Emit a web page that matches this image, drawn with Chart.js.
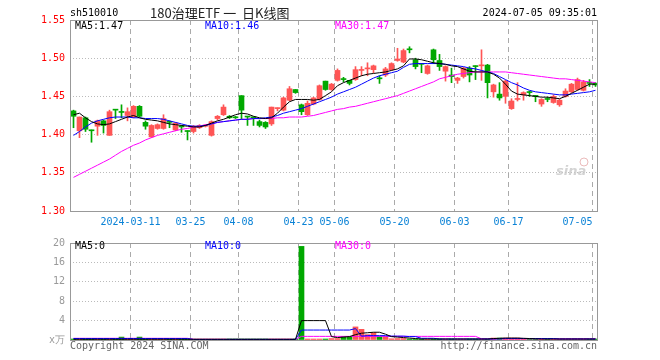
<!DOCTYPE html>
<html>
<head>
<meta charset="utf-8">
<script src="https://cdn.jsdelivr.net/npm/chart.js@4.4.1/dist/chart.umd.min.js"></script>
<style>
html, body { margin: 0; padding: 0; background: #fff; }
#wrap { position: relative; width: 660px; height: 360px; }
canvas { position: absolute; left: 0; }
#k { top: 0; }
#v { top: 232px; }
</style>
</head>
<body>
<div id="wrap">
  <canvas id="k" width="660" height="232"></canvas>
  <canvas id="v" width="660" height="128"></canvas>
</div>
<script>
// daily candles, 2024-02-26 .. 2024-07-05
var openP = [1.431,1.405,1.422,1.406,1.411,1.418,1.399,1.433,1.430,1.425,
             1.423,1.437,1.416,1.397,1.408,1.408,1.417,1.406,1.411,1.405,
             1.404,1.409,1.411,1.399,1.421,1.426,1.424,1.423,1.451,1.424,
             1.423,1.417,1.416,1.414,1.434,1.432,1.445,1.459,1.439,1.426,
             1.440,1.446,1.470,1.459,1.471,1.473,1.471,1.472,1.484,1.486,
             1.485,1.474,1.478,1.485,1.497,1.495,1.512,1.498,1.493,1.480,
             1.511,1.497,1.483,1.478,1.471,1.476,1.487,1.490,1.490,1.491,
             1.456,1.453,1.450,1.434,1.446,1.452,1.456,1.451,1.440,1.447,
             1.442,1.439,1.450,1.456,1.459,1.458,1.468,1.467];
var highP = [1.432,1.423,1.423,1.406,1.419,1.419,1.432,1.433,1.439,1.435,
             1.438,1.438,1.418,1.413,1.414,1.426,1.418,1.416,1.412,1.405,
             1.412,1.413,1.413,1.418,1.425,1.439,1.425,1.424,1.451,1.424,
             1.423,1.419,1.417,1.436,1.435,1.449,1.463,1.459,1.440,1.444,
             1.449,1.465,1.470,1.467,1.486,1.475,1.471,1.489,1.489,1.494,
             1.491,1.477,1.488,1.494,1.513,1.512,1.515,1.500,1.493,1.491,
             1.512,1.505,1.490,1.487,1.475,1.488,1.489,1.490,1.511,1.492,
             1.466,1.468,1.471,1.447,1.468,1.456,1.457,1.451,1.447,1.449,
             1.452,1.446,1.460,1.467,1.474,1.471,1.472,1.468];
var lowP  = [1.409,1.396,1.404,1.390,1.399,1.402,1.399,1.421,1.422,1.418,
             1.422,1.423,1.407,1.396,1.407,1.407,1.409,1.405,1.403,1.393,
             1.402,1.408,1.410,1.398,1.419,1.425,1.421,1.421,1.420,1.412,
             1.412,1.410,1.408,1.412,1.431,1.431,1.444,1.454,1.426,1.425,
             1.439,1.445,1.458,1.458,1.470,1.469,1.465,1.471,1.477,1.477,
             1.481,1.467,1.476,1.484,1.496,1.494,1.507,1.486,1.481,1.479,
             1.493,1.484,1.470,1.468,1.467,1.474,1.469,1.472,1.471,1.448,
             1.449,1.445,1.441,1.433,1.444,1.445,1.450,1.443,1.437,1.443,
             1.441,1.437,1.449,1.455,1.458,1.457,1.463,1.463];
var closeP = [1.424,1.423,1.407,1.405,1.418,1.412,1.430,1.432,1.429,1.430,
              1.437,1.424,1.411,1.412,1.413,1.421,1.416,1.415,1.410,1.404,
              1.411,1.412,1.412,1.417,1.424,1.436,1.422,1.422,1.432,1.423,
              1.422,1.412,1.410,1.436,1.435,1.448,1.460,1.455,1.430,1.441,
              1.448,1.464,1.459,1.466,1.484,1.472,1.467,1.485,1.485,1.487,
              1.490,1.473,1.486,1.493,1.499,1.510,1.511,1.489,1.492,1.490,
              1.498,1.489,1.489,1.476,1.474,1.487,1.478,1.489,1.491,1.468,
              1.465,1.448,1.470,1.444,1.447,1.455,1.455,1.450,1.446,1.446,
              1.450,1.445,1.457,1.466,1.472,1.469,1.467,1.465];

var ma5  = [1.426,1.428,1.422,1.417,1.414,1.413,1.414,1.417,1.420,1.423,
            1.425,1.422,1.420,1.419,1.418,1.416,1.414,1.413,1.412,1.411,
            1.410,1.410,1.412,1.415,1.418,1.420,1.423,1.426,1.428,1.427,
            1.424,1.422,1.421,1.422,1.428,1.436,1.443,1.446,1.446,1.446,
            1.445,1.446,1.451,1.456,1.464,1.468,1.471,1.474,1.477,1.479,
            1.480,1.481,1.482,1.484,1.486,1.490,1.499,1.499,1.498,1.496,
            1.494,1.493,1.492,1.490,1.489,1.486,1.483,1.482,1.482,1.482,
            1.479,1.474,1.466,1.457,1.453,1.452,1.451,1.450,1.449,1.449,
            1.448,1.447,1.450,1.454,1.458,1.462,1.466,1.466];
var ma10 = [1.399,1.404,1.410,1.415,1.418,1.420,1.422,1.423,1.423,1.423,
            1.422,1.422,1.421,1.421,1.421,1.420,1.418,1.416,1.414,1.412,
            1.411,1.411,1.412,1.414,1.416,1.417,1.418,1.419,1.420,1.420,
            1.421,1.421,1.422,1.423,1.425,1.428,1.430,1.432,1.434,1.437,
            1.440,1.443,1.446,1.449,1.453,1.456,1.459,1.462,1.466,1.470,
            1.474,1.477,1.479,1.481,1.483,1.488,1.492,1.493,1.493,1.493,
            1.493,1.493,1.492,1.491,1.490,1.489,1.487,1.486,1.484,1.482,
            1.480,1.476,1.472,1.468,1.465,1.461,1.458,1.456,1.455,1.454,
            1.453,1.452,1.452,1.453,1.454,1.455,1.456,1.458];
var ma30 = [1.344,1.348,1.352,1.356,1.360,1.364,1.368,1.373,1.378,1.382,
            1.386,1.389,1.393,1.396,1.399,1.401,1.403,1.405,1.407,1.408,
            1.410,1.411,1.413,1.414,1.416,1.417,1.418,1.419,1.420,1.420,
            1.421,1.421,1.421,1.421,1.422,1.422,1.423,1.423,1.423,1.424,
            1.425,1.427,1.429,1.431,1.433,1.434,1.436,1.437,1.439,1.441,
            1.443,1.445,1.447,1.449,1.451,1.454,1.457,1.460,1.463,1.466,
            1.469,1.473,1.475,1.477,1.479,1.480,1.481,1.482,1.482,1.482,
            1.482,1.482,1.482,1.481,1.480,1.479,1.478,1.477,1.476,1.475,
            1.474,1.473,1.473,1.472,1.471,1.470,1.469,1.468];

// volume in 万
var volume = [0.2,0.15,0.2,0.15,0.15,0.1,0.2,0.1,0.6,0.15,
              0.15,0.6,0.1,0.15,0.1,0.15,0.1,0.1,0.15,0.1,
              0.15,0.1,0.1,0.15,0.1,0.15,0.1,0.1,0.2,0.1,
              0.1,0.1,0.1,0.15,0.1,0.15,0.15,0.1,19.3,0.15,
              0.15,0.2,0.15,0.3,0.3,0.7,0.7,2.7,2.2,1.1,
              1.5,0.7,0.7,0.25,0.3,0.3,0.2,0.2,0.15,0.2,
              0.15,0.2,0.2,0.15,0.2,0.2,0.15,0.2,0.2,0.2,
              0.4,0.4,0.4,0.4,0.4,0.3,0.2,0.2,0.15,0.2,
              0.2,0.2,0.2,0.2,0.2,0.2,0.15,0.2];
var volMa5  = [0.15,0.15,0.15,0.15,0.15,0.15,0.15,0.15,0.15,0.15,
               0.15,0.15,0.15,0.15,0.15,0.15,0.15,0.15,0.15,0.15,
               0.15,0.15,0.15,0.15,0.15,0.15,0.15,0.15,0.15,0.15,
               0.15,0.15,0.15,0.15,0.15,0.15,0.15,0.15,4.0,4.0,
               4.0,4.0,4.0,0.7,0.5,0.6,0.7,1.1,1.4,1.5,
               1.6,1.6,1.2,0.7,0.6,0.5,0.4,0.3,0.2,0.2,
               0.2,0.2,0.2,0.2,0.2,0.2,0.2,0.2,0.2,0.2,
               0.3,0.35,0.4,0.4,0.4,0.35,0.3,0.25,0.2,0.2,
               0.2,0.2,0.2,0.2,0.2,0.2,0.2,0.2];
var volMa10 = [0.3,0.3,0.3,0.3,0.3,0.3,0.3,0.3,0.3,0.3,
               0.3,0.3,0.3,0.3,0.3,0.3,0.3,0.3,0.3,0.3,
               0.12,0.12,0.12,0.12,0.12,0.12,0.12,0.12,0.12,0.12,
               0.12,0.12,0.12,0.12,0.12,0.12,0.12,0.12,2.05,2.05,
               2.05,2.05,2.05,2.05,2.05,2.05,2.05,2.35,0.8,0.9,
               0.9,0.9,0.9,0.8,0.8,0.8,0.7,0.7,0.35,0.35,
               0.35,0.2,0.2,0.2,0.2,0.2,0.2,0.2,0.2,0.2,
               0.2,0.25,0.3,0.3,0.3,0.3,0.3,0.3,0.3,0.3,
               0.3,0.2,0.2,0.2,0.2,0.2,0.2,0.2];
var volMa30 = [0.35,0.35,0.35,0.35,0.35,0.35,0.35,0.35,0.35,0.35,
               0.35,0.35,0.35,0.35,0.35,0.35,0.35,0.35,0.35,0.35,
               0.12,0.12,0.12,0.12,0.12,0.12,0.12,0.12,0.12,0.12,
               0.12,0.12,0.12,0.12,0.12,0.12,0.12,0.12,0.75,0.75,
               0.75,0.75,0.75,0.75,0.75,0.75,0.75,0.75,0.75,0.75,
               0.75,0.75,0.75,0.75,0.75,0.75,0.75,0.75,0.75,0.75,
               0.75,0.75,0.75,0.75,0.75,0.75,0.75,0.75,0.25,0.25,
               0.25,0.25,0.25,0.25,0.25,0.25,0.25,0.25,0.25,0.25,
               0.25,0.25,0.25,0.25,0.25,0.25,0.25,0.25];

// date ticks: candle index where each label sits
var tickIdx    = [10, 20, 28, 38, 44, 54, 64, 73, 87];
var tickLabels = ['2024-03-11', '03-25', '04-08', '04-23', '05-06', '05-20', '06-03', '06-17', '07-05'];
var priceTicks = [1.30, 1.35, 1.40, 1.45, 1.50, 1.55];
var volTicks   = [0, 4, 8, 12, 16, 20];

var RED = '#ff5555', GREEN = '#00a800';
var MONO = 'DejaVu Sans Mono';
var colors = closeP.map(function (c, i) { return c >= openP[i] ? RED : GREEN; });

function pts(arr) { return arr.map(function (v, i) { return { x: i, y: v }; }); }
function lineSet(arr, col) {
  return { type: 'line', data: pts(arr), borderColor: col, borderWidth: 1, pointRadius: 0,
           fill: false, tension: 0, order: 0 };
}

function xAxis(h, showLabels) {
  return {
    type: 'linear', offset: false, min: -0.5833, max: closeP.length - 0.5833,
    afterBuildTicks: function (s) { s.ticks = tickIdx.map(function (i) { return { value: i - 0.5 }; }); },
    afterFit: function (s) { s.height = h; },
    ticks: { display: showLabels, autoSkip: false, maxRotation: 0, padding: 5, color: '#0a82d6',
             font: { family: MONO, size: 10 },
             // last label is pushed left so it stays inside the frame
             callback: function (v, i) { return i === tickLabels.length - 1 ? tickLabels[i] + '     ' : tickLabels[i]; } },
    grid: { color: '#aaa', drawTicks: false, offset: false },
    border: { display: false, dash: [5, 4] }
  };
}

function frame(chart) {
  var c = chart.ctx, a = chart.chartArea;
  c.strokeStyle = '#999';
  c.lineWidth = 1;
  c.setLineDash([]);
  c.strokeRect(a.left + 0.5, a.top + 0.5, a.right - a.left - 1, a.bottom - a.top);
}

var kDecor = {
  id: 'kDecor',
  afterDraw: function (chart) {
    var c = chart.ctx;
    c.save();
    frame(chart);
    c.textBaseline = 'middle';
    c.font = '10px "' + MONO + '"';
    c.fillStyle = '#000';
    c.textAlign = 'left';
    c.fillText('sh510010', 70, 13);
    c.textAlign = 'right';
    c.fillText('2024-07-05 09:35:01', 597, 13);
    c.textAlign = 'left';
    c.fillText('MA5:' + ma5[ma5.length - 1].toFixed(2), 75, 26);
    c.fillStyle = '#0000ff';
    c.fillText('MA10:' + ma10[ma10.length - 1].toFixed(2), 205, 26);
    c.fillStyle = '#ff00ff';
    c.fillText('MA30:' + ma30[ma30.length - 1].toFixed(2), 335, 26);
    c.fillStyle = '#222';
    c.font = '13px "Noto Sans CJK SC"';
    c.fillText('180治理ETF 一  日K线图', 150, 13);
    // faint sina watermark
    c.fillStyle = 'rgba(200,200,200,0.8)';
    c.font = 'italic bold 13px "DejaVu Sans"';
    c.fillText('sina', 556, 172);
    c.strokeStyle = 'rgba(230,170,170,0.8)';
    c.beginPath();
    c.arc(584, 162, 4, 0, Math.PI * 2);
    c.stroke();
    c.restore();
  }
};

var vDecor = {
  id: 'vDecor',
  afterDraw: function (chart) {
    var c = chart.ctx;
    c.save();
    frame(chart);
    c.textBaseline = 'middle';
    c.font = '10px "' + MONO + '"';
    c.textAlign = 'left';
    c.fillStyle = '#000';
    c.fillText('MA5:' + Math.round(volMa5[volMa5.length - 1]), 75, 14);
    c.fillStyle = '#0000ff';
    c.fillText('MA10:' + Math.round(volMa10[volMa10.length - 1]), 205, 14);
    c.fillStyle = '#ff00ff';
    c.fillText('MA30:' + Math.round(volMa30[volMa30.length - 1]), 335, 14);
    c.fillStyle = '#666';
    c.fillText('Copyright 2024 SINA.COM', 70, 114);
    c.textAlign = 'right';
    c.fillText('http://finance.sina.com.cn', 597, 114);
    c.restore();
  }
};

new Chart(document.getElementById('k'), {
  type: 'bar',
  data: {
    datasets: [
      lineSet(ma5, '#000000'),
      lineSet(ma10, '#0000ff'),
      lineSet(ma30, '#ff00ff'),
      { data: openP.map(function (o, i) { return { x: i, y: [o, closeP[i]] }; }),
        backgroundColor: colors, barThickness: 5, minBarLength: 1, grouped: false, order: 1 },
      { data: lowP.map(function (l, i) { return { x: i, y: [l, highP[i]] }; }),
        backgroundColor: colors, barThickness: 1, grouped: false, order: 2 }
    ]
  },
  options: {
    responsive: false, animation: false, devicePixelRatio: 1,
    layout: { padding: { top: 20, right: 62, left: 0, bottom: 0 } },
    plugins: { legend: { display: false }, tooltip: { enabled: false } },
    scales: {
      x: xAxis(21, true),
      y: {
        type: 'linear', min: 1.30, max: 1.55,
        afterBuildTicks: function (s) { s.ticks = priceTicks.map(function (v) { return { value: v }; }); },
        afterFit: function (s) { s.width = 70; },
        ticks: { color: '#ff0000', padding: 5, font: { family: MONO, size: 10 },
                 callback: function (v) { return v.toFixed(2); } },
        grid: { color: '#bbb', drawTicks: false },
        border: { display: false, dash: [1, 2] }
      }
    }
  },
  plugins: [kDecor]
});

new Chart(document.getElementById('v'), {
  type: 'bar',
  data: {
    datasets: [
      lineSet(volMa5, '#000000'),
      lineSet(volMa10, '#0000ff'),
      lineSet(volMa30, '#ff00ff'),
      { data: pts(volume), backgroundColor: colors, barThickness: 5, minBarLength: 1, grouped: false, order: 1 }
    ]
  },
  options: {
    responsive: false, animation: false, devicePixelRatio: 1,
    layout: { padding: { top: 8, right: 62, left: 0, bottom: 0 } },
    plugins: { legend: { display: false }, tooltip: { enabled: false } },
    scales: {
      x: xAxis(20, false),
      y: {
        type: 'linear', min: 0, max: 20,
        afterBuildTicks: function (s) { s.ticks = volTicks.map(function (v) { return { value: v }; }); },
        afterFit: function (s) { s.width = 70; },
        ticks: { color: '#999', padding: 5, font: { family: MONO, size: 10 },
                 callback: function (v) { return v === 0 ? 'x万' : String(v); } },
        grid: { color: '#bbb', drawTicks: false },
        border: { display: false, dash: [1, 2] }
      }
    }
  },
  plugins: [vDecor]
});
</script>
</body>
</html>
